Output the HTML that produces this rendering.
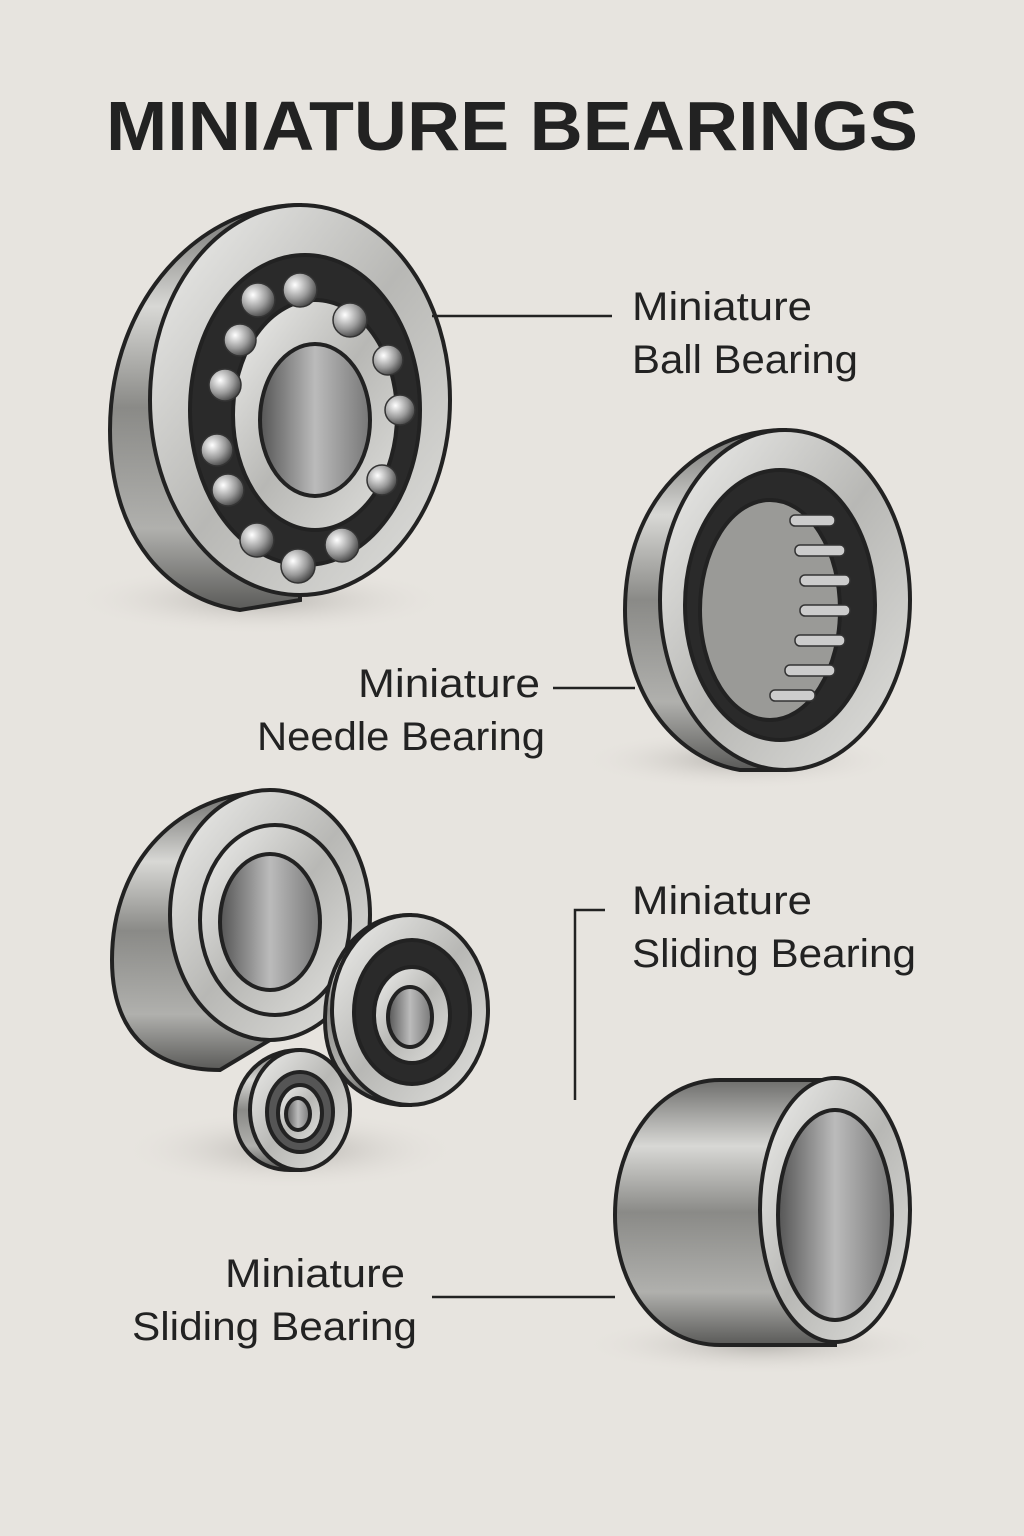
<!DOCTYPE html>
<html><head><meta charset="utf-8"><style>
html,body{margin:0;padding:0;background:#e7e4df;}
svg{display:block}
text{font-family:"Liberation Sans",sans-serif;fill:#222;}
</style></head><body>
<svg width="1024" height="1536" viewBox="0 0 1024 1536" xmlns="http://www.w3.org/2000/svg">
<defs>
<linearGradient id="body" x1="0" y1="0" x2="0" y2="1">
<stop offset="0" stop-color="#6e6e6c"/><stop offset="0.25" stop-color="#d8d8d5"/><stop offset="0.5" stop-color="#8a8a87"/><stop offset="0.8" stop-color="#b0b0ad"/><stop offset="1" stop-color="#5a5a58"/></linearGradient>
<linearGradient id="face" x1="0" y1="0" x2="1" y2="1">
<stop offset="0" stop-color="#f0f0ee"/><stop offset="0.5" stop-color="#b8b8b5"/><stop offset="1" stop-color="#e0e0dd"/></linearGradient>
<linearGradient id="hole" x1="0" y1="0" x2="1" y2="0">
<stop offset="0" stop-color="#555"/><stop offset="0.5" stop-color="#bbb"/><stop offset="1" stop-color="#777"/></linearGradient>
<radialGradient id="ball" cx="0.35" cy="0.35" r="0.7"><stop offset="0" stop-color="#fff"/><stop offset="0.6" stop-color="#999"/><stop offset="1" stop-color="#444"/></radialGradient>
<radialGradient id="shadow" cx="0.5" cy="0.5" r="0.5"><stop offset="0" stop-color="#b8b5b0"/><stop offset="1" stop-color="#e7e4df" stop-opacity="0"/></radialGradient>
</defs>

<text x="512" y="150" text-anchor="middle" font-size="70" font-weight="bold" textLength="812" lengthAdjust="spacingAndGlyphs" fill="#222">MINIATURE BEARINGS</text>

<ellipse cx="260" cy="600" rx="190" ry="35" fill="url(#shadow)"/>
<ellipse cx="740" cy="760" rx="160" ry="30" fill="url(#shadow)"/>
<ellipse cx="290" cy="1150" rx="170" ry="40" fill="url(#shadow)"/>
<ellipse cx="760" cy="1345" rx="180" ry="30" fill="url(#shadow)"/>

<!-- Ball bearing -->
<g stroke="#222" stroke-width="4">
<path d="M300 205 C 200 205 110 300 110 430 C110 540 170 600 240 610 L300 600 Z" fill="url(#body)"/>
<ellipse cx="300" cy="400" rx="150" ry="195" fill="url(#face)"/>
<ellipse cx="305" cy="410" rx="115" ry="155" fill="#2a2a2a"/>
<ellipse cx="315" cy="415" rx="82" ry="115" fill="url(#face)"/>
<ellipse cx="315" cy="420" rx="55" ry="76" fill="url(#hole)"/>
</g>
<g fill="url(#ball)" stroke="#333" stroke-width="1.5">
<circle cx="258" cy="300" r="17"/><circle cx="300" cy="290" r="17"/><circle cx="350" cy="320" r="17"/>
<circle cx="388" cy="360" r="15"/><circle cx="400" cy="410" r="15"/><circle cx="382" cy="480" r="15"/>
<circle cx="342" cy="545" r="17"/><circle cx="298" cy="566" r="17"/><circle cx="257" cy="540" r="17"/>
<circle cx="228" cy="490" r="16"/><circle cx="217" cy="450" r="16"/><circle cx="225" cy="385" r="16"/><circle cx="240" cy="340" r="16"/>
</g>
<line x1="432" y1="316" x2="612" y2="316" stroke="#222" stroke-width="2.5"/>
<text x="632" y="320" font-size="40" textLength="180" lengthAdjust="spacingAndGlyphs">Miniature</text>
<text x="632" y="373" font-size="40" textLength="226" lengthAdjust="spacingAndGlyphs">Ball Bearing</text>

<!-- Needle bearing -->
<g stroke="#222" stroke-width="4">
<path d="M785 430 C 700 430 625 500 625 610 C625 700 680 760 740 770 L785 770 Z" fill="url(#body)"/>
<ellipse cx="785" cy="600" rx="125" ry="170" fill="url(#face)"/>
<ellipse cx="780" cy="605" rx="95" ry="135" fill="#2a2a2a"/>
<ellipse cx="770" cy="610" rx="70" ry="110" fill="#9a9a97"/>
</g>
<g stroke="#333" stroke-width="1.5" fill="#ccc">
<rect x="790" y="515" width="45" height="11" rx="5"/><rect x="795" y="545" width="50" height="11" rx="5"/>
<rect x="800" y="575" width="50" height="11" rx="5"/><rect x="800" y="605" width="50" height="11" rx="5"/>
<rect x="795" y="635" width="50" height="11" rx="5"/><rect x="785" y="665" width="50" height="11" rx="5"/>
<rect x="770" y="690" width="45" height="11" rx="5"/>
</g>
<line x1="553" y1="688" x2="635" y2="688" stroke="#222" stroke-width="2.5"/>
<text x="358" y="697" font-size="40" textLength="182" lengthAdjust="spacingAndGlyphs">Miniature</text>
<text x="257" y="750" font-size="40" textLength="288" lengthAdjust="spacingAndGlyphs">Needle Bearing</text>

<!-- Group -->
<g stroke="#222" stroke-width="4">
<path d="M270 792 C 180 792 112 860 112 960 C112 1040 160 1070 220 1070 L270 1040 Z" fill="url(#body)"/>
<ellipse cx="270" cy="915" rx="100" ry="125" fill="url(#face)"/>
<ellipse cx="275" cy="920" rx="75" ry="95" fill="url(#face)"/>
<ellipse cx="270" cy="922" rx="50" ry="68" fill="url(#hole)"/>
<path d="M410 915 C 360 915 325 960 325 1020 C325 1070 355 1100 400 1105 L410 1105 Z" fill="url(#body)"/>
<ellipse cx="410" cy="1010" rx="78" ry="95" fill="url(#face)"/>
<ellipse cx="412" cy="1012" rx="58" ry="72" fill="#2a2a2a"/>
<ellipse cx="412" cy="1015" rx="38" ry="48" fill="url(#face)"/>
<ellipse cx="410" cy="1017" rx="22" ry="30" fill="url(#hole)"/>
<path d="M300 1050 C 260 1050 235 1080 235 1115 C235 1150 260 1170 290 1170 L300 1170 Z" fill="url(#body)"/>
<ellipse cx="300" cy="1110" rx="50" ry="60" fill="url(#face)"/>
<ellipse cx="300" cy="1112" rx="33" ry="40" fill="#555"/>
<ellipse cx="300" cy="1113" rx="22" ry="28" fill="url(#face)"/>
<ellipse cx="298" cy="1114" rx="12" ry="16" fill="url(#hole)"/>
</g>
<polyline points="605,910 575,910 575,1100" fill="none" stroke="#222" stroke-width="2.5"/>
<text x="632" y="914" font-size="40" textLength="180" lengthAdjust="spacingAndGlyphs">Miniature</text>
<text x="632" y="967" font-size="40" textLength="284" lengthAdjust="spacingAndGlyphs">Sliding Bearing</text>

<!-- Sliding bearing -->
<g stroke="#222" stroke-width="4">
<path d="M835 1080 L720 1080 C 660 1080 615 1140 615 1215 C615 1290 660 1345 720 1345 L835 1345 Z" fill="url(#body)"/>
<ellipse cx="835" cy="1210" rx="75" ry="132" fill="url(#face)"/>
<ellipse cx="835" cy="1215" rx="57" ry="105" fill="url(#hole)"/>
</g>
<line x1="432" y1="1297" x2="615" y2="1297" stroke="#222" stroke-width="2.5"/>
<text x="225" y="1287" font-size="40" textLength="180" lengthAdjust="spacingAndGlyphs">Miniature</text>
<text x="132" y="1340" font-size="40" textLength="285" lengthAdjust="spacingAndGlyphs">Sliding Bearing</text>
</svg>
</body></html>
